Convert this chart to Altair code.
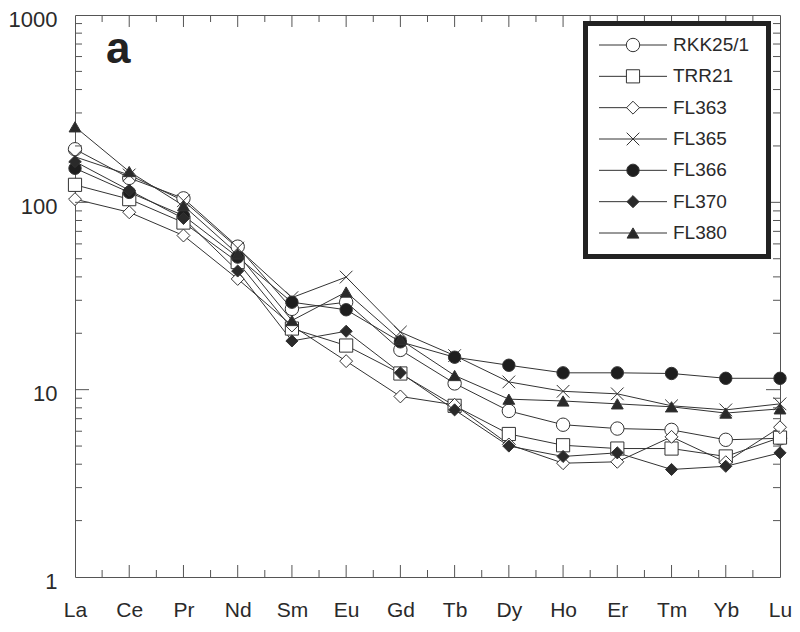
import json
import altair as alt
import pandas as pd

# ---- data ----
elements = ["La", "Ce", "Pr", "Nd", "Sm", "Eu", "Gd", "Tb", "Dy", "Ho", "Er", "Tm", "Yb", "Lu"]
names = ["RKK25/1", "TRR21", "FL363", "FL365", "FL366", "FL370", "FL380"]

rkk25_1 = [192, 135, 105, 58, 27, 29.3, 16.3, 10.8, 7.7, 6.5, 6.2, 6.1, 5.4, 5.5]
trr21 = [124, 104, 78, 48, 21.2, 17.2, 12.2, 8.2, 5.8, 5.05, 4.85, 4.85, 4.4, 5.55]
fl363 = [104, 88.5, 66.5, 39, 22, 14.2, 9.2, 8.3, 5.1, 4.05, 4.12, 5.6, 4.1, 6.3]
fl365 = [175, 140, 102, 57, 31, 39.9, 20.3, 15.2, 11.0, 9.8, 9.5, 8.2, 7.8, 8.4]
fl366 = [152, 113, 85, 51, 29.3, 26.7, 18.0, 14.9, 13.5, 12.3, 12.3, 12.2, 11.5, 11.5]
fl370 = [165, 116, 82, 43, 18.2, 20.5, 12.3, 7.8, 5.0, 4.4, 4.6, 3.75, 3.9, 4.6]
fl380 = [253, 146, 96, 53, 23.4, 33.2, 18.5, 11.9, 8.9, 8.7, 8.4, 8.1, 7.5, 7.9]

series = [rkk25_1, trr21, fl363, fl365, fl366, fl370, fl380]

y_major_ticks = [10, 100]
y_minor_ticks = [m * d for d in (1, 10, 100) for m in range(2, 10)]
y_label_values = [1, 10, 100, 1000]

# ---- styles ----
X_PATH = "M-1,-1L1,1M-1,1L1,-1"
shapes = ["circle", "square", "diamond", X_PATH, "circle", "diamond", "triangle-up"]
fills = ["white", "white", "white", "white", "#1e1e1e", "#2a2a2a", "#2a2a2a"]
sizes = [180, 140, 190, 200, 210, 190, 200]

W, H = 705, 562
FONT = "Liberation Sans"

rows = []
for n, vals in zip(names, series):
    for i, (el, v) in enumerate(zip(elements, vals)):
        rows.append({"name": n, "idx": i, "element": el, "value": v})
df = pd.DataFrame(rows)

xs = alt.Scale(domain=[0, len(elements) - 1], nice=False, zero=False)
ys = alt.Scale(type="log", domain=[1, 1000], nice=False)

shape_enc = alt.Shape("name:N", scale=alt.Scale(domain=names, range=shapes), legend=None)
fill_enc = alt.Fill("name:N", scale=alt.Scale(domain=names, range=fills), legend=None)
size_enc = alt.Size("name:N", scale=alt.Scale(domain=names, range=sizes), legend=None)

label_expr = json.dumps(elements) + "[datum.value]"

lines = alt.Chart(df).mark_line(color="#333", strokeWidth=1).encode(
    x=alt.X("idx:Q", scale=xs, title=None,
            axis=alt.Axis(values=list(range(len(elements))), labelExpr=label_expr,
                          ticks=False, domain=False, grid=False, labelFlush=False,
                          labelBound=False, labelOverlap=False,
                          labelFont=FONT, labelFontSize=21, labelFontWeight="normal",
                          labelColor="#2a2a2a", labelPadding=22)),
    y=alt.Y("value:Q", scale=ys, title=None,
            axis=alt.Axis(values=y_label_values, format="d", ticks=False, domain=False,
                          grid=False, labelFlush=False, labelBound=False,
                          labelOverlap=False, labelOffset=4,
                          labelFont=FONT, labelFontSize=22, labelFontWeight="normal",
                          labelColor="#2a2a2a", labelPadding=18)),
    detail="name:N",
    order="idx:Q",
)

points = alt.Chart(df).mark_point(filled=True, stroke="#333", strokeWidth=1, opacity=1).encode(
    x=alt.X("idx:Q", scale=xs, axis=None),
    y=alt.Y("value:Q", scale=ys, axis=None),
    shape=shape_enc,
    fill=fill_enc,
    size=size_enc,
)

# ---- inward ticks on all four sides ----
def ytick_layer(values, length, right=False):
    d = pd.DataFrame({"v": values})
    if right:
        xe, x2e = alt.value(W), alt.value(W - length)
    else:
        xe, x2e = alt.value(0), alt.value(length)
    return alt.Chart(d).mark_rule(color="#555", strokeWidth=1).encode(
        y=alt.Y("v:Q", scale=ys, axis=None), x=xe, x2=x2e)


def xtick_layer(values, length, top=False):
    d = pd.DataFrame({"v": values})
    if top:
        ye, y2e = alt.value(0), alt.value(length)
    else:
        ye, y2e = alt.value(H), alt.value(H - length)
    return alt.Chart(d).mark_rule(color="#555", strokeWidth=1).encode(
        x=alt.X("v:Q", scale=xs, axis=None), y=ye, y2=y2e)


x_major = list(range(1, len(elements) - 1))
x_minor = [i + 0.5 for i in range(len(elements) - 1)]

ticks = [
    ytick_layer(y_minor_ticks, 7), ytick_layer(y_major_ticks, 14),
    ytick_layer(y_minor_ticks, 7, right=True), ytick_layer(y_major_ticks, 14, right=True),
    xtick_layer(x_minor, 7), xtick_layer(x_major, 12),
    xtick_layer(x_minor, 7, top=True), xtick_layer(x_major, 12, top=True),
]

# ---- panel letter ----
letter = alt.Chart(pd.DataFrame({"t": ["a"]})).mark_text(
    font=FONT, fontSize=44, fontWeight="bold", color="#222", align="left",
    baseline="alphabetic").encode(x=alt.value(31), y=alt.value(48), text="t:N")

# ---- custom legend ----
leg_df = pd.DataFrame({"name": names})
leg_y = alt.Y("name:N", scale=alt.Scale(type="point", domain=names, range=[30, 218], padding=0),
              axis=None)

leg_box = alt.Chart(leg_df).mark_rect(fill="white", stroke="#222", strokeWidth=5).encode(
    x=alt.value(510.5), x2=alt.value(693.5), y=alt.value(8.5), y2=alt.value(241.5))
leg_lines = alt.Chart(leg_df).mark_rule(color="#333", strokeWidth=1).encode(
    y=leg_y, x=alt.value(524), x2=alt.value(592))
leg_pts = alt.Chart(leg_df).mark_point(filled=True, stroke="#333", strokeWidth=1, opacity=1).encode(
    y=leg_y, x=alt.value(558), shape=shape_enc, fill=fill_enc, size=size_enc)
leg_text = alt.Chart(leg_df).mark_text(
    font=FONT, fontSize=19, color="#2a2a2a", align="left", baseline="middle").encode(
    y=leg_y, x=alt.value(598), text="name:N")

chart = alt.layer(
    lines, points, *ticks, letter, leg_box, leg_lines, leg_pts, leg_text
).resolve_scale(x="independent", y="independent").properties(
    width=W, height=H,
    autosize=alt.AutoSizeParams(type="none"),
    padding={"left": 67, "top": 7, "right": 12, "bottom": 47},
    background="white",
).configure_view(stroke="#555", strokeWidth=1)

chart.save("out.html", embed_options={"renderer": "svg", "actions": False})
